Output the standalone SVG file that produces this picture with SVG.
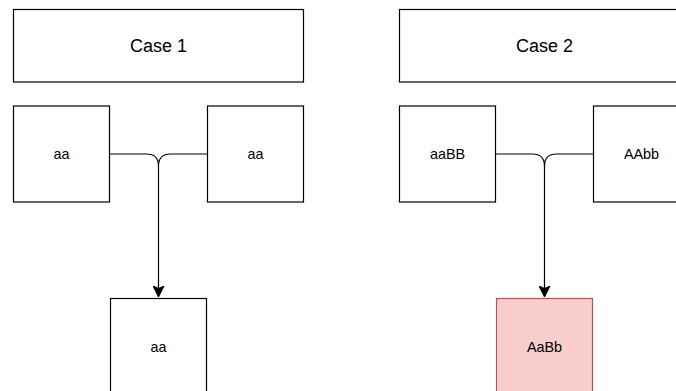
<svg xmlns="http://www.w3.org/2000/svg" width="676" height="391" viewBox="0 0 676 391">
<style>
.box{fill:#ffffff;stroke:#000000;stroke-width:1.2}
.hl{fill:#f8cecc;stroke:#b85450;stroke-width:1.2}
.t{font-family:"Liberation Sans",Arial,sans-serif;font-size:14.4px;fill:#000;text-anchor:middle;dominant-baseline:central}
.big{font-size:18px}
.edge{fill:none;stroke:#000;stroke-width:1.2}
</style>
<defs>
<marker id="arr" markerWidth="12" markerHeight="12" viewBox="0 0 12 12" refX="11" refY="6" orient="auto" markerUnits="userSpaceOnUse">
<path d="M0,0.5 L11,6 L0,11.5 L2.5,6 Z" fill="#000" stroke="#000" stroke-width="1"/>
</marker>
</defs>
<rect width="676" height="391" fill="#ffffff"/>
<g id="connectors">
<path class="edge" d="M109.5,154 H146.5 Q158.5,154 158.5,166 V297" marker-end="url(#arr)"/>
<path class="edge" d="M207.5,154 H170.5 Q158.5,154 158.5,166"/>
<path class="edge" d="M495.5,154 H532.5 Q544.5,154 544.5,166 V297" marker-end="url(#arr)"/>
<path class="edge" d="M593.5,154 H556.5 Q544.5,154 544.5,166"/>
</g>
<g id="case1">
<rect class="box" x="13.5" y="9.5" width="290" height="72.5"/>
<text class="t big" x="158.5" y="46">Case 1</text>
</g>
<g id="c1-left">
<rect class="box" x="13.5" y="106" width="96" height="96"/>
<text class="t" x="61.5" y="154">aa</text>
</g>
<g id="c1-right">
<rect class="box" x="207.5" y="106" width="96" height="96"/>
<text class="t" x="255.5" y="154">aa</text>
</g>
<g id="c1-child">
<rect class="box" x="110.5" y="298.5" width="96" height="96"/>
<text class="t" x="158.5" y="346.5">aa</text>
</g>
<g id="case2">
<rect class="box" x="399.5" y="9.5" width="290" height="72.5"/>
<text class="t big" x="544.5" y="46">Case 2</text>
</g>
<g id="c2-left">
<rect class="box" x="399.5" y="106" width="96" height="96"/>
<text class="t" x="447.5" y="154">aaBB</text>
</g>
<g id="c2-right">
<rect class="box" x="593.5" y="106" width="96" height="96"/>
<text class="t" x="641.5" y="154">AAbb</text>
</g>
<g id="c2-child">
<rect class="hl" x="496.5" y="298.5" width="96" height="96"/>
<text class="t" x="544.5" y="346.5">AaBb</text>
</g>
</svg>
